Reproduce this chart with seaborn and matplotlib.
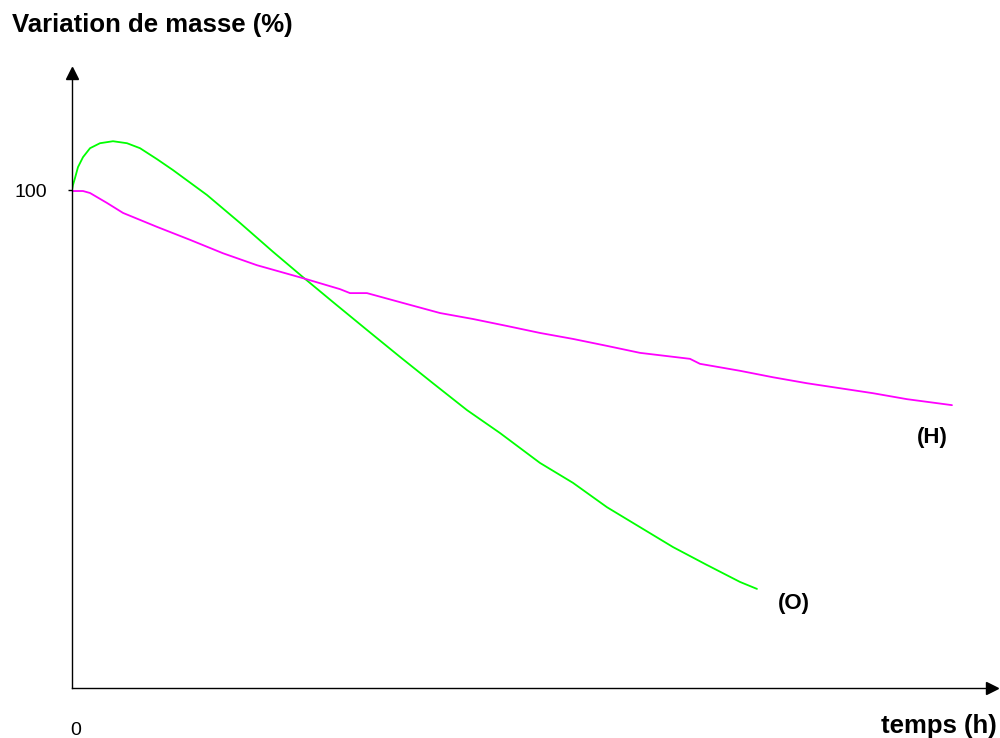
import pandas as pd
import seaborn as sns
import matplotlib.pyplot as plt

# courbe (O)
temps_o = [0, 0.11, 0.34, 0.68, 1.25, 2.05, 3.18, 4.66, 6.25, 7.73, 9.66, 11.48, 15.34,
           19.09, 22.84, 26.25, 29.66, 33.52, 37.27, 41.02, 44.89, 48.64, 53.18,
           56.93, 60.80, 64.55, 68.30, 72.16, 75.91, 77.84]
masse_o = [100.0, 101.0, 102.4, 104.6, 106.6, 108.4, 109.4, 109.8, 109.4, 108.4, 106.2,
           104.0, 99.0, 93.4, 87.6, 82.5, 77.5, 71.9, 66.5, 61.2, 55.8, 51.2, 45.2,
           41.2, 36.3, 32.3, 28.3, 24.7, 21.3, 19.9]

# courbe (H)
temps_h = [0, 1.25, 2.05, 3.98, 5.80, 9.66, 13.41, 17.16, 21.02, 26.25, 30.45, 31.59,
           33.52, 38.07, 41.82, 45.57, 49.43, 53.18, 56.93, 60.80, 64.55, 70.23,
           71.36, 75.91, 79.66, 83.52, 87.27, 91.02, 94.89, 100.0]
masse_h = [99.8, 99.8, 99.4, 97.4, 95.4, 92.6, 90.0, 87.3, 84.9, 82.3, 80.1, 79.3,
           79.3, 77.1, 75.3, 74.1, 72.7, 71.3, 70.1, 68.7, 67.3, 66.1,
           65.1, 63.7, 62.4, 61.2, 60.2, 59.2, 58.0, 56.8]

df = pd.concat([
    pd.DataFrame({"temps": temps_o, "masse": masse_o, "echantillon": "O"}),
    pd.DataFrame({"temps": temps_h, "masse": masse_h, "echantillon": "H"}),
])

sns.set_theme(style="white")
plt.rcParams["font.family"] = ["Liberation Sans", "DejaVu Sans"]
plt.rcParams["text.color"] = "black"
plt.rcParams["ytick.color"] = "black"

fig = plt.figure(figsize=(10, 7.38), dpi=100)
ax = fig.add_axes([0.072, 50 / 738, 0.92, 615 / 738])

sns.lineplot(data=df, x="temps", y="masse", hue="echantillon",
             palette={"O": "#00ff00", "H": "#ff00ff"}, estimator=None,
             sort=False, linewidth=1.3, legend=False, ax=ax)

ax.set_xlim(0, 104.55)
ax.set_ylim(0, 123.5)
ax.set_xlabel("")
ax.set_ylabel("")

# axes avec flèches
for s in ["top", "right"]:
    ax.spines[s].set_visible(False)
for s in ["left", "bottom"]:
    ax.spines[s].set_color("black")
    ax.spines[s].set_linewidth(1.0)
ax.plot(1, 0, ">", color="black", ms=9, transform=ax.transAxes, clip_on=False)
ax.plot(0, 1, "^", color="black", ms=9, transform=ax.transAxes, clip_on=False)

ax.set_xticks([])
ax.set_yticks([100])
ax.set_yticklabels(["100"], fontsize=14, color="black")
ax.tick_params(axis="y", direction="out", length=3, width=1, color="black",
               pad=15, left=True)

ax.text(96.0, 49.2, "(H)", fontsize=16, fontweight="bold", va="baseline")
ax.text(80.2, 15.9, "(O)", fontsize=16, fontweight="bold", va="baseline")

fig.text(0.012, (738 - 32) / 738, "Variation de masse (%)", fontsize=18.5,
         fontweight="bold", va="baseline")
fig.text(0.997, 5 / 738, "temps (h)", fontsize=18.5, fontweight="bold",
         ha="right", va="baseline")
fig.text(0.076, 3 / 738, "0", fontsize=14, ha="center", va="baseline")

plt.savefig("out.png", dpi=100)
